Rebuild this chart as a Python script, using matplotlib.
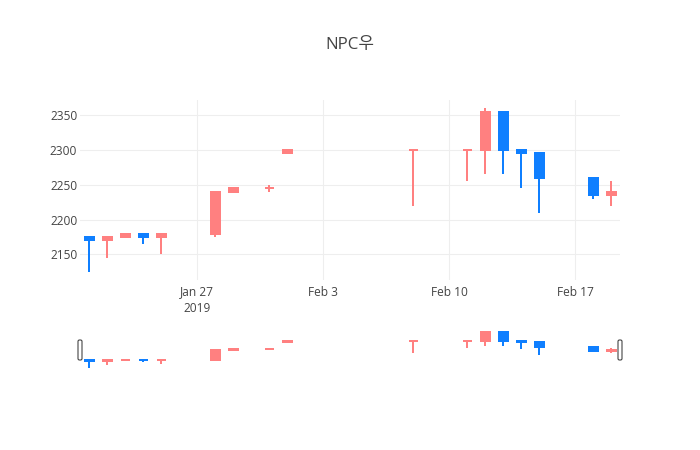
import numpy as np
import pandas as pd
import matplotlib
matplotlib.use("Agg")
import matplotlib.pyplot as plt
import matplotlib.dates as mdates
from matplotlib.patches import Rectangle, FancyBboxPatch
from matplotlib.transforms import IdentityTransform

# data
dates = ['2019-01-21', '2019-01-22', '2019-01-23', '2019-01-24', '2019-01-25',
         '2019-01-28', '2019-01-29', '2019-01-31', '2019-02-01', '2019-02-08',
         '2019-02-11', '2019-02-12', '2019-02-13', '2019-02-14', '2019-02-15',
         '2019-02-18', '2019-02-19']
open_ = [2175, 2170, 2175, 2180, 2175, 2180, 2240, 2245, 2295, 2300,
         2300, 2300, 2355, 2300, 2295, 2260, 2235]
high = [2175, 2175, 2180, 2180, 2180, 2240, 2245, 2250, 2300, 2300,
        2300, 2360, 2355, 2300, 2295, 2260, 2255]
low = [2125, 2145, 2175, 2165, 2150, 2175, 2240, 2240, 2295, 2220,
       2255, 2265, 2265, 2245, 2210, 2230, 2220]
close = [2170, 2175, 2180, 2175, 2180, 2240, 2245, 2245, 2300, 2300,
         2300, 2355, 2300, 2295, 2260, 2235, 2240]

title = 'NPC우'
xtick_dates = ['2019-01-27', '2019-02-03', '2019-02-10', '2019-02-17']
xtick_labels = ['Jan 27\n2019', 'Feb 3', 'Feb 10', 'Feb 17']
ytick_values = [2150, 2200, 2250, 2300, 2350]

UP = '#FF8080'
DOWN = '#0F7FFF'
TXT = '#444444'
FONT = ['Open Sans', 'Noto Sans CJK KR', 'DejaVu Sans']
plt.rcParams['font.family'] = FONT

x = mdates.date2num(pd.to_datetime(dates))

# plotly rule: equal open/close -> compare with previous close
direction = []
inc = True
prev = None
for o, c in zip(open_, close):
    if c == o:
        if prev is not None and c != prev:
            inc = c > prev
    else:
        inc = c > o
    direction.append(inc)
    prev = c

W, H = 700, 450
fig = plt.figure(figsize=(7, 4.5), dpi=100)
ax = fig.add_axes([80 / W, (H - 280) / H, 540 / W, 180 / H])
sl = fig.add_axes([80 / W, (H - 370) / H, 540 / W, 40.5 / H])

def draw_candles(a, lw):
    for xi, o, hi, lo, c, up in zip(x, open_, high, low, close, direction):
        col = UP if up else DOWN
        a.vlines(xi, lo, hi, color=col, linewidth=lw, zorder=2)
        bw = 0.5
        a.add_patch(Rectangle((xi - bw / 2, min(o, c)), bw, abs(c - o),
                              facecolor=col, edgecolor=col, linewidth=lw,
                              zorder=3))

draw_candles(ax, 1.44)
draw_candles(sl, 1.44)

xmin = x.min() - 0.5
xmax = x.max() + 0.5
pad = (max(high) - min(low)) * 0.05
for a in (ax, sl):
    a.set_xlim(xmin, xmax)
    a.set_ylim(min(low) - pad, max(high) + pad)
    for s in a.spines.values():
        s.set_visible(False)

ax.set_xticks(mdates.date2num(pd.to_datetime(xtick_dates)))
ax.set_xticklabels(xtick_labels, linespacing=1.3)
ax.set_yticks(ytick_values)
ax.tick_params(length=0, labelsize=8.6, labelcolor=TXT)
ax.tick_params(axis='x', pad=4)
ax.tick_params(axis='y', pad=2)
ax.grid(True, color='#eeeeee', linewidth=0.75)
ax.set_axisbelow(True)

sl.set_xticks([])
sl.set_yticks([])

# range slider grabbers
for cx in (80, 620):
    fig.add_artist(FancyBboxPatch((cx - 2, H - 360), 4, 20,
                                  boxstyle='round,pad=0,rounding_size=1.5',
                                  facecolor='white', edgecolor=TXT,
                                  linewidth=0.8, transform=IdentityTransform()))

fig.text(0.5, 1 - 45 / H, title, ha='center', va='center',
         fontsize=12.2, color=TXT, family=FONT)

fig.savefig('out.png', dpi=100)
